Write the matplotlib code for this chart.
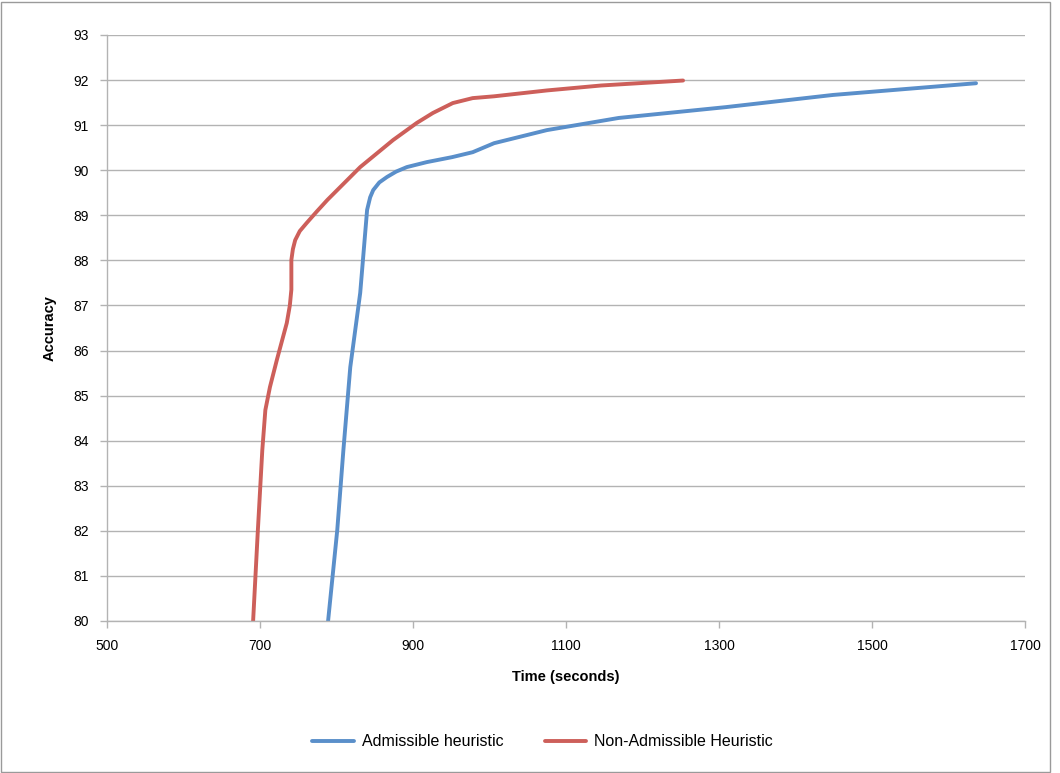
import matplotlib
matplotlib.use("Agg")
import matplotlib.pyplot as plt
from matplotlib.patches import Rectangle

# values
adm_time = [789, 801, 809, 818, 831, 840, 844, 848, 856, 866, 878, 892,
            918, 951, 978, 1006, 1075, 1169, 1309, 1449, 1636]
adm_acc = [80.0, 82.02, 83.79, 85.63, 87.28, 89.12, 89.40, 89.56, 89.73,
           89.85, 89.97, 90.07, 90.18, 90.29, 90.40, 90.60, 90.89, 91.16,
           91.40, 91.67, 91.93]

non_time = [691, 697, 703, 707, 713, 722, 735, 739, 741, 741, 743, 746,
            752, 761, 774, 788, 831, 874, 905, 926, 952, 978, 1006, 1075,
            1146, 1253]
non_acc = [80.0, 81.95, 83.79, 84.68, 85.19, 85.79, 86.61, 87.0, 87.35,
           88.01, 88.25, 88.45, 88.65, 88.83, 89.08, 89.34, 90.07, 90.67,
           91.05, 91.27, 91.49, 91.60, 91.64, 91.77, 91.88, 91.99]

x_ticks = [500, 700, 900, 1100, 1300, 1500, 1700]
y_ticks = list(range(80, 94))

BLUE = "#5A8FCA"
RED = "#CD5F5A"
GRID = "#B3B3B3"

plt.rcParams["font.family"] = ["Liberation Sans", "DejaVu Sans"]

fig = plt.figure(figsize=(10.6, 7.73), dpi=100)
W, H = 1060, 773
ax = fig.add_axes([107 / W, 1 - 621 / H, (1025 - 107) / W, (621 - 35) / H])

ax.plot(adm_time, adm_acc, color=BLUE, lw=2.8, label="Admissible heuristic",
        solid_capstyle="round", solid_joinstyle="round")
ax.plot(non_time, non_acc, color=RED, lw=2.8, label="Non-Admissible Heuristic",
        solid_capstyle="round", solid_joinstyle="round")

ax.set_xlim(500, 1700)
ax.set_ylim(80, 93)
ax.set_xticks(x_ticks)
ax.set_yticks(y_ticks)
ax.yaxis.grid(True, color=GRID, lw=1.0)
ax.set_axisbelow(True)
for s in ("top", "right"):
    ax.spines[s].set_visible(False)
for s in ("left", "bottom"):
    ax.spines[s].set_color(GRID)
    ax.spines[s].set_linewidth(1.0)
ax.tick_params(axis="both", colors=GRID, labelcolor="black", labelsize=10,
               length=5, width=1.0)
ax.tick_params(axis="y", pad=8)
ax.tick_params(axis="x", pad=8)

ax.set_xlabel("Time (seconds)", fontsize=10.5, fontweight="bold", labelpad=12)
ax.set_ylabel("Accuracy", fontsize=10.5, fontweight="bold", labelpad=12)

fig.legend(loc="center", bbox_to_anchor=(0.512, 1 - 742 / H), ncol=2,
           frameon=False, fontsize=11.5, handlelength=2.6, handletextpad=0.5,
           columnspacing=2.6)

# thin frame round the whole chart, as in the spreadsheet export
fig.add_artist(Rectangle((1 / W, 1 / H), (1050 - 1) / W, (H - 3) / H,
                         transform=fig.transFigure, fill=False,
                         edgecolor="#9A9A9A", lw=1.0))

fig.savefig("out.png", dpi=100)
